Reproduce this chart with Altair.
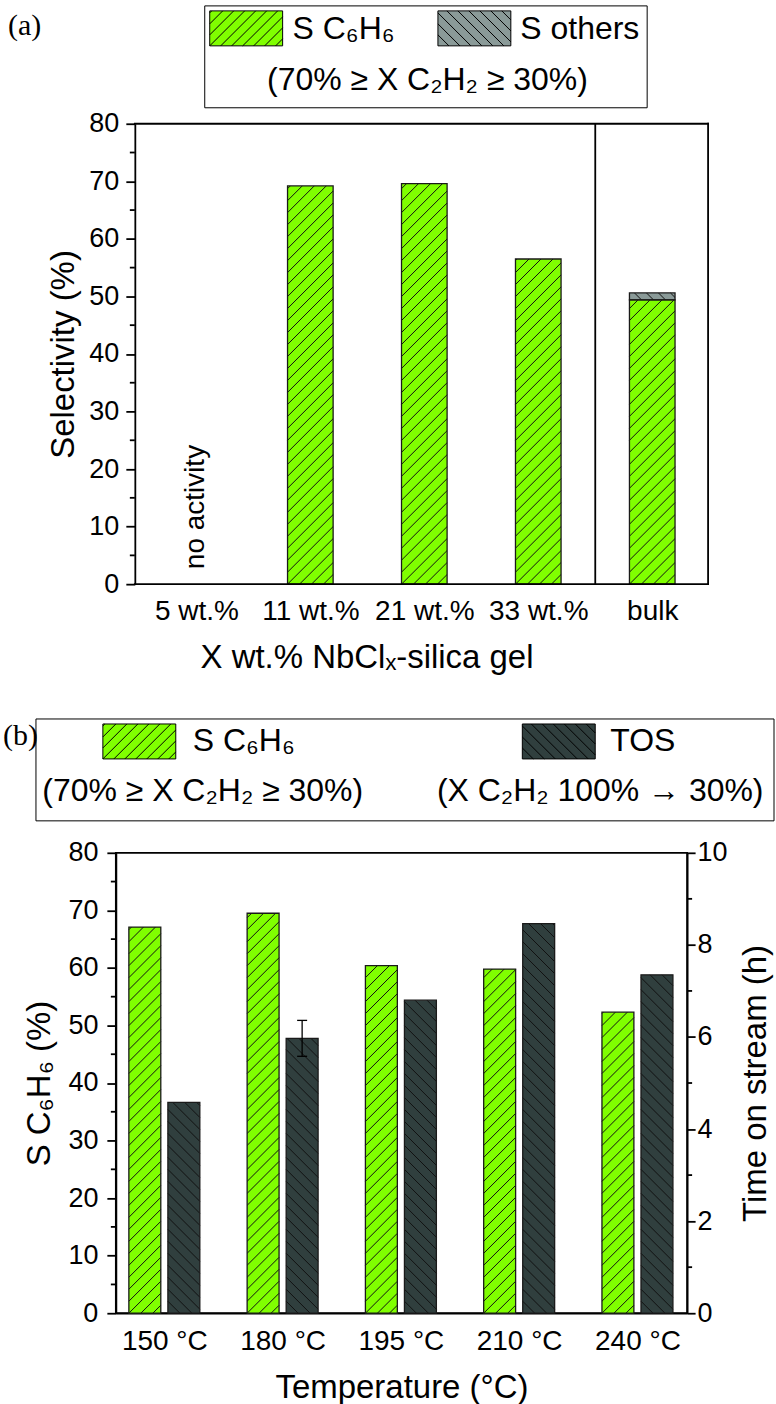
import json
import numpy as np
import pandas as pd
import altair as alt

SANS = "Liberation Sans"
SERIF = "Liberation Serif"
GREEN = "#80FF00"
GREY = "#8A9A98"
DARK = "#303F3E"
INK = "#000000"

# ---------------- (a) selectivity vs. NbClx loading ----------------
a_labels = ["5 wt.%", "11 wt.%", "21 wt.%", "33 wt.%", "bulk"]
a_benzene = [None, 69.2, 69.6, 56.5, 49.4]      # 5 wt.% gave no activity
a_others = [None, 0.0, 0.0, 0.0, 1.2]

# ---------------- (b) benzene selectivity and time on stream vs. temperature ----------------
b_labels = ["150 °C", "180 °C", "195 °C", "210 °C", "240 °C"]
b_benzene = [67.1, 69.5, 60.4, 59.8, 52.3]
b_tos = [4.58, 5.97, 6.80, 8.46, 7.35]
b_tos_err = [0.0, 0.39, 0.0, 0.0, 0.0]

# ---------------- geometry ----------------
# both panels share one left origin; panel (a) starts its frame A_SHIFT px further right
A_SHIFT = 19
A_FRAME_W, A_H = 574, 461
A_FRAME = [-0.54, 4.49]
A_W = A_FRAME_W + A_SHIFT
A_X = [A_FRAME[0] - A_SHIFT * (A_FRAME[1] - A_FRAME[0]) / A_FRAME_W, A_FRAME[1]]
A_BAR = 0.40
B_W, B_H = 572, 461
B_X = [-0.41, 4.42]
B_BAR = 0.27
B_GAP = 0.06
HATCH_STEP = 12
SW_W, SW_H = 73, 35
TITLE_FS, LEGEND_FS, XTICK_FS, YTICK_FS = 33, 32, 28, 27

ONE = pd.DataFrame({"k": [0]})


def hatch_uv(w, h, slant, step):
    """Diagonal hatch segments inside a w x h box (pixels, v pointing up)."""
    segs = []
    if slant == "/":
        for k in range(int(np.floor(-w / step)), int(np.ceil(h / step)) + 1):
            c = k * step
            u0, u1 = max(0.0, -c), min(w, h - c)
            if u1 - u0 > 0.5:
                segs.append((u0, u0 + c, u1, u1 + c))
    else:
        for k in range(0, int(np.ceil((w + h) / step)) + 1):
            c = k * step
            u0, u1 = max(0.0, c - h), min(w, c)
            if u1 - u0 > 0.5:
                segs.append((u0, c - u0, u1, c - u1))
    return segs


def hatch_bars(bars, xdom, width, ydom, height):
    kx = width / (xdom[1] - xdom[0])
    ky = height / (ydom[1] - ydom[0])
    rows = []
    for b in bars.itertuples():
        w = (b.x1 - b.x0) * kx
        h = (b.y1 - b.y0) * ky
        for u0, v0, u1, v1 in hatch_uv(w, h, b.slant, HATCH_STEP):
            rows.append(dict(hx0=b.x0 + u0 / kx, hy0=b.y0 + v0 / ky,
                             hx1=b.x0 + u1 / kx, hy1=b.y0 + v1 / ky))
    return pd.DataFrame(rows)


def swatch_path(w, h, slant, step):
    r = w / 2

    def p(u, v):
        return f"{(u - w / 2) / r:.4f},{(h / 2 - v) / r:.4f}"

    d = f"M{p(0, 0)}L{p(w, 0)}L{p(w, h)}L{p(0, h)}Z"
    for u0, v0, u1, v1 in hatch_uv(w, h, slant, step):
        d += f"M{p(u0, v0)}L{p(u1, v1)}"
    return d


def label(txt, x, y, size, font=SANS, align="left"):
    return alt.Chart(ONE).mark_text(
        text=txt, font=font, fontSize=size, align=align, baseline="alphabetic", color=INK
    ).encode(x=alt.value(x), y=alt.value(y))


def box(x0, y0, x1, y1):
    return alt.Chart(ONE).mark_rect(fill="white", stroke=INK, strokeWidth=1).encode(
        x=alt.value(x0), x2=alt.value(x1), y=alt.value(y0), y2=alt.value(y1))


def swatch(x, y, fill, slant):
    return alt.Chart(ONE).mark_point(
        shape=swatch_path(SW_W, SW_H, slant, 11), size=SW_W ** 2, filled=True,
        fill=fill, stroke=INK, strokeWidth=1, opacity=1
    ).encode(x=alt.value(x), y=alt.value(y))


def extent(y0, y1):
    # invisible vertical span that fixes how much room a panel claims in the stack
    return alt.Chart(ONE).mark_rule(strokeOpacity=0).encode(
        x=alt.value(300), y=alt.value(y0), y2=alt.value(y1))


def y_axis(values, title, pad, tpad, orient="left", tick=9, **kw):
    return alt.Axis(values=values, orient=orient, tickSize=tick, labelFontSize=YTICK_FS,
                    labelPadding=pad, title=title, titleFontSize=TITLE_FS, titlePadding=tpad,
                    grid=False, **kw)


def x_axis(labels, title, pad, tpad, **kw):
    expr = json.dumps(labels, ensure_ascii=False) + "[datum.value]"
    return alt.Axis(values=list(range(len(labels))), labelExpr=expr, ticks=False, tickSize=0,
                    labelFontSize=XTICK_FS, labelPadding=pad, title=title, titleFontSize=TITLE_FS,
                    titlePadding=tpad, grid=False, **kw)


# ================= panel (a) =================
rows = []
for i, (s, o) in enumerate(zip(a_benzene, a_others)):
    if s is None:
        continue
    rows.append(dict(x0=i - A_BAR / 2, x1=i + A_BAR / 2, y0=0.0, y1=s, part="S C6H6", slant="/"))
    if o:
        rows.append(dict(x0=i - A_BAR / 2, x1=i + A_BAR / 2, y0=s, y1=s + o, part="S others", slant="\\"))
a_bars = pd.DataFrame(rows)
a_hatch = hatch_bars(a_bars, A_X, A_W, [0, 80], A_H)

xa = alt.Scale(domain=A_X, nice=False, zero=False)
ya = alt.Scale(domain=[0, 80], nice=False)
ax_a = x_axis(a_labels, "X wt.% NbClₓ-silica gel", 13, 16, titleX=A_SHIFT + 232, domain=False)
ay_a = y_axis(list(range(0, 81, 10)), "Selectivity (%)", 7, 8, offset=-A_SHIFT)

a_fill = alt.Chart(a_bars).mark_bar().encode(
    x=alt.X("x0:Q", scale=xa, axis=ax_a), x2="x1:Q",
    y=alt.Y("y0:Q", scale=ya, axis=ay_a), y2="y1:Q",
    fill=alt.Fill("part:N", scale=alt.Scale(domain=["S C6H6", "S others"], range=[GREEN, GREY]),
                  legend=None),
)
a_lines = alt.Chart(a_hatch).mark_rule(color="#111111", strokeWidth=1).encode(
    x=alt.X("hx0:Q", scale=xa, axis=ax_a), x2="hx1:Q",
    y=alt.Y("hy0:Q", scale=ya, axis=ay_a), y2="hy1:Q")
a_outline = alt.Chart(a_bars).mark_bar(fillOpacity=0, stroke="#1a1a1a", strokeWidth=1.3).encode(
    x=alt.X("x0:Q", scale=xa, axis=ax_a), x2="x1:Q",
    y=alt.Y("y0:Q", scale=ya, axis=ay_a), y2="y1:Q")
a_minor = alt.Chart(pd.DataFrame({"v": list(range(5, 80, 10))})).mark_rule(
    color=INK, strokeWidth=1.8).encode(
    y=alt.Y("v:Q", scale=ya, axis=ay_a), x=alt.value(A_SHIFT - 5), x2=alt.value(A_SHIFT))

# plot frame of panel (a): top, bottom and right edges
frame = pd.DataFrame({"fx0": [A_FRAME[0]], "fx1": [A_FRAME[1]]})
frame_base = alt.Chart(frame).mark_rule(color=INK, strokeWidth=1.8, strokeCap="square")
a_top = frame_base.encode(x=alt.X("fx0:Q", scale=xa, axis=ax_a), x2="fx1:Q", y=alt.value(0))
a_bottom = frame_base.encode(x=alt.X("fx0:Q", scale=xa, axis=ax_a), x2="fx1:Q", y=alt.value(A_H))
a_right = frame_base.encode(x=alt.X("fx1:Q", scale=xa, axis=ax_a), y=alt.value(0), y2=alt.value(A_H))

split = pd.DataFrame({"xs": [(a_labels.index("33 wt.%") + a_labels.index("bulk")) / 2]})
a_split = alt.Chart(split).mark_rule(color=INK, strokeWidth=1.8).encode(
    x=alt.X("xs:Q", scale=xa, axis=ax_a), y=alt.value(0), y2=alt.value(A_H))
idle = pd.DataFrame({"xi": [i for i, s in enumerate(a_benzene) if s is None], "t": ["no activity"]})
a_note = alt.Chart(idle).mark_text(angle=270, align="left", baseline="middle", font=SANS,
                                   fontSize=28, color=INK).encode(
    x=alt.X("xi:Q", scale=xa, axis=ax_a), y=alt.value(A_H - 15), text="t:N")

S = A_SHIFT
panel_a = alt.layer(
    a_fill, a_lines, a_outline, a_minor, a_top, a_bottom, a_right, a_split, a_note,
    box(S + 70, -118, S + 513, -16),
    swatch(S + 111.5, -95.5, GREEN, "/"),
    swatch(S + 340, -95.5, GREY, "\\"),
    label("S C₆H₆", S + 158, -85, LEGEND_FS),
    label("S others", S + 386, -85, LEGEND_FS),
    label("(70% ≥ X C₂H₂ ≥ 30%)", S + 293, -34, LEGEND_FS, align="center"),
    label("(a)", -108, -89, 30, font=SERIF),
    extent(-150, A_H + 100),
).properties(width=A_W, height=A_H, view=alt.ViewBackground(stroke="transparent"))

# ================= panel (b) =================
s_rows, t_rows = [], []
for i, (s, t) in enumerate(zip(b_benzene, b_tos)):
    s_rows.append(dict(x0=i - B_GAP / 2 - B_BAR, x1=i - B_GAP / 2, y0=0.0, y1=s, slant="/"))
    t_rows.append(dict(x0=i + B_GAP / 2, x1=i + B_GAP / 2 + B_BAR, y0=0.0, y1=t, slant="\\"))
b_s = pd.DataFrame(s_rows)
b_t = pd.DataFrame(t_rows)
b_s_hatch = hatch_bars(b_s, B_X, B_W, [0, 80], B_H)
b_t_hatch = hatch_bars(b_t, B_X, B_W, [0, 10], B_H)
b_err = pd.DataFrame([dict(xc=i + B_GAP / 2 + B_BAR / 2, lo=t - e, hi=t + e)
                      for i, (t, e) in enumerate(zip(b_tos, b_tos_err)) if e > 0])

xb = alt.Scale(domain=B_X, nice=False, zero=False)
yl = alt.Scale(domain=[0, 80], nice=False)
yr = alt.Scale(domain=[0, 10], nice=False)
ax_b = x_axis(b_labels, "Temperature (°C)", 14, 16)
ay_l = y_axis(list(range(0, 81, 10)), "S C₆H₆ (%)", 9, 11)
ay_r = y_axis(list(range(0, 11, 2)), "Time on stream (h)", 2, 12, orient="right",
              tick=8, titleAngle=270, titleBaseline="top")

b_s_fill = alt.Chart(b_s).mark_bar(color=GREEN).encode(
    x=alt.X("x0:Q", scale=xb, axis=ax_b), x2="x1:Q",
    y=alt.Y("y0:Q", scale=yl, axis=ay_l), y2="y1:Q")
b_s_lines = alt.Chart(b_s_hatch).mark_rule(color="#111111", strokeWidth=1).encode(
    x=alt.X("hx0:Q", scale=xb, axis=ax_b), x2="hx1:Q",
    y=alt.Y("hy0:Q", scale=yl, axis=ay_l), y2="hy1:Q")
b_s_outline = alt.Chart(b_s).mark_bar(fillOpacity=0, stroke="#1a1a1a", strokeWidth=1.3).encode(
    x=alt.X("x0:Q", scale=xb, axis=ax_b), x2="x1:Q",
    y=alt.Y("y0:Q", scale=yl, axis=ay_l), y2="y1:Q")
b_minor_l = alt.Chart(pd.DataFrame({"v": list(range(5, 80, 10))})).mark_rule(
    color=INK, strokeWidth=1.8).encode(
    y=alt.Y("v:Q", scale=yl, axis=ay_l), x=alt.value(-5), x2=alt.value(0))

left = alt.layer(
    b_s_fill, b_s_lines, b_s_outline, b_minor_l,
    box(-80, -134, 659, -32),
    swatch(23.5, -111.5, GREEN, "/"),
    swatch(443.5, -111.5, DARK, "\\"),
    label("S C₆H₆", 77, -102, LEGEND_FS),
    label("TOS", 495, -102, LEGEND_FS),
    label("(70% ≥ X C₂H₂ ≥ 30%)", 87, -52, LEGEND_FS, align="center"),
    label("(X C₂H₂ 100% → 30%)", 485, -52, LEGEND_FS, align="center"),
    label("(b)", -113, -108, 30, font=SERIF),
    extent(-160, 0),
)

b_t_fill = alt.Chart(b_t).mark_bar(color=DARK).encode(
    x=alt.X("x0:Q", scale=xb, axis=ax_b), x2="x1:Q",
    y=alt.Y("y0:Q", scale=yr, axis=ay_r), y2="y1:Q")
b_t_lines = alt.Chart(b_t_hatch).mark_rule(color="#111111", strokeWidth=1).encode(
    x=alt.X("hx0:Q", scale=xb, axis=ax_b), x2="hx1:Q",
    y=alt.Y("hy0:Q", scale=yr, axis=ay_r), y2="hy1:Q")
b_t_outline = alt.Chart(b_t).mark_bar(fillOpacity=0, stroke="#1a1a1a", strokeWidth=1.3).encode(
    x=alt.X("x0:Q", scale=xb, axis=ax_b), x2="x1:Q",
    y=alt.Y("y0:Q", scale=yr, axis=ay_r), y2="y1:Q")
err_base = alt.Chart(b_err)
b_err_line = err_base.mark_rule(color=INK, strokeWidth=1.3).encode(
    x=alt.X("xc:Q", scale=xb, axis=ax_b),
    y=alt.Y("lo:Q", scale=yr, axis=ay_r), y2="hi:Q")
b_err_lo = err_base.mark_tick(orient="horizontal", size=10, thickness=1.3, color=INK, opacity=1).encode(
    x=alt.X("xc:Q", scale=xb, axis=ax_b), y=alt.Y("lo:Q", scale=yr, axis=ay_r))
b_err_hi = err_base.mark_tick(orient="horizontal", size=10, thickness=1.3, color=INK, opacity=1).encode(
    x=alt.X("xc:Q", scale=xb, axis=ax_b), y=alt.Y("hi:Q", scale=yr, axis=ay_r))
b_minor_r = alt.Chart(pd.DataFrame({"v": list(range(1, 10, 2))})).mark_rule(
    color=INK, strokeWidth=1.8).encode(
    y=alt.Y("v:Q", scale=yr, axis=ay_r), x=alt.value(B_W), x2=alt.value(B_W + 5))

right = alt.layer(b_t_fill, b_t_lines, b_t_outline, b_err_line, b_err_lo, b_err_hi, b_minor_r)

panel_b = alt.layer(left, right).resolve_scale(y="independent").properties(width=B_W, height=B_H)

chart = alt.vconcat(panel_a, panel_b, spacing=7).properties(
    padding={"left": 2, "top": -28, "right": 0, "bottom": -2},
    background="white",
).configure_view(
    stroke=INK, strokeWidth=1.8
).configure_axis(
    labelFont=SANS, titleFont=SANS, labelColor=INK, titleColor=INK,
    domainColor=INK, domainWidth=1.8, tickColor=INK, tickWidth=1.8,
    titleFontWeight="normal",
)

chart.save("out.html", embed_options={"renderer": "svg", "actions": False})
